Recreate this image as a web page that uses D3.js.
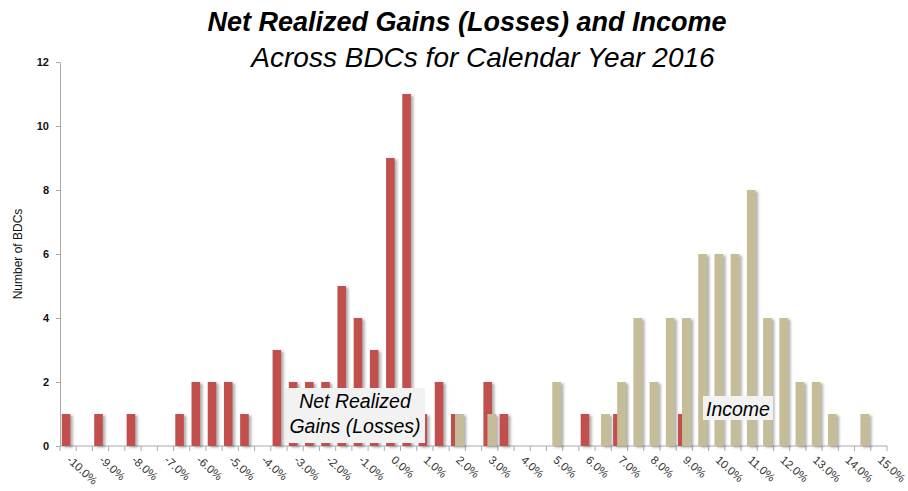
<!DOCTYPE html>
<html>
<head>
<meta charset="utf-8">
<script src="https://cdn.jsdelivr.net/npm/d3@7"></script>
<style>
  body { margin: 0; background: #fff; }
  text { font-family: "Liberation Sans", Arial, sans-serif; }
</style>
</head>
<body>
<svg id="chart"></svg>
<script>
// return buckets, 0.5% wide
const bins = [-10.0, -9.5, -9.0, -8.5, -8.0, -7.5, -7.0, -6.5, -6.0, -5.5,
  -5.0, -4.5, -4.0, -3.5, -3.0, -2.5, -2.0, -1.5, -1.0, -0.5,
  0.0, 0.5, 1.0, 1.5, 2.0, 2.5, 3.0, 3.5, 4.0, 4.5,
  5.0, 5.5, 6.0, 6.5, 7.0, 7.5, 8.0, 8.5, 9.0, 9.5,
  10.0, 10.5, 11.0, 11.5, 12.0, 12.5, 13.0, 13.5, 14.0, 14.5, 15.0];

// number of BDCs per bucket
const gains = [1, 0, 1, 0, 1, 0, 0, 1, 2, 2,
  2, 1, 0, 3, 2, 2, 2, 5, 4, 3,
  9, 11, 1, 2, 1, 0, 2, 1, 0, 0,
  0, 0, 1, 0, 1, 0, 0, 0, 1, 0,
  0, 0, 0, 0, 0, 0, 0, 0, 0, 0, 0];

const income = [0, 0, 0, 0, 0, 0, 0, 0, 0, 0,
  0, 0, 0, 0, 0, 0, 0, 0, 0, 0,
  0, 0, 0, 0, 1, 0, 1, 0, 0, 0,
  2, 0, 0, 1, 2, 4, 2, 4, 4, 6,
  6, 6, 8, 4, 4, 2, 2, 1, 0, 1, 0];

const yTicks = [0, 2, 4, 6, 8, 10, 12];

const width = 908;
const height = 491;
const margin = { top: 62, right: 21, bottom: 45, left: 60 };

const svg = d3.select('#chart')
  .attr('width', width)
  .attr('height', height);

const defs = svg.append('defs');
const shadow = defs.append('filter')
  .attr('id', 'shadow')
  .attr('x', '-20%').attr('y', '-5%')
  .attr('width', '180%').attr('height', '115%');
shadow.append('feDropShadow')
  .attr('dx', 2.5).attr('dy', 1.5)
  .attr('stdDeviation', 1.2)
  .attr('flood-color', '#666')
  .attr('flood-opacity', 0.5);

const x = d3.scaleBand()
  .domain(bins)
  .range([margin.left, width - margin.right])
  .padding(0);

const y = d3.scaleLinear()
  .domain([0, 12])
  .range([height - margin.bottom, margin.top]);

const bw = x.bandwidth();

// axes
const yAxis = svg.append('g')
  .attr('transform', 'translate(' + margin.left + ',0)')
  .call(d3.axisLeft(y).tickValues(yTicks).tickSize(4).tickPadding(7));
yAxis.select('.domain').attr('stroke', '#aaa');
yAxis.selectAll('.tick line').attr('stroke', '#aaa');
yAxis.selectAll('.tick text')
  .attr('fill', '#111')
  .style('font-size', '11px')
  .style('font-weight', 'bold');

const xg = svg.append('g');
xg.append('line')
  .attr('x1', margin.left).attr('x2', width - margin.right)
  .attr('y1', y(0)).attr('y2', y(0))
  .attr('stroke', '#aaa');
xg.selectAll('.xtick')
  .data(bins.concat(['end']))
  .enter().append('line')
    .attr('class', 'xtick')
    .attr('x1', d => d === 'end' ? width - margin.right : x(d))
    .attr('x2', d => d === 'end' ? width - margin.right : x(d))
    .attr('y1', y(0)).attr('y2', y(0) + 5)
    .attr('stroke', '#aaa');
xg.selectAll('.xlabel')
  .data(bins.filter((d, i) => i % 2 === 0))
  .enter().append('text')
    .attr('class', 'xlabel')
    .attr('transform', d => 'translate(' + (x(d) + bw / 2 - 2) + ',' + (y(0) + 15) + ') rotate(42)')
    .attr('fill', '#333')
    .style('font-size', '11.5px')
    .text(d => d.toFixed(1) + '%');

svg.append('text')
  .attr('transform', 'translate(22,' + ((y(0) + y(12)) / 2) + ') rotate(-90)')
  .attr('text-anchor', 'middle')
  .attr('fill', '#111')
  .style('font-size', '12px')
  .text('Number of BDCs');

// bars
const bars = svg.append('g').attr('filter', 'url(#shadow)');

bars.selectAll('.gain')
  .data(bins.map((b, i) => ({ bin: b, v: gains[i] })).filter(d => d.v > 0))
  .enter().append('rect')
    .attr('class', 'gain')
    .attr('x', d => x(d.bin) + bw * 0.11)
    .attr('width', bw * 0.53)
    .attr('y', d => y(d.v))
    .attr('height', d => y(0) - y(d.v))
    .attr('fill', '#C0504D');

bars.selectAll('.income')
  .data(bins.map((b, i) => ({ bin: b, v: income[i] })).filter(d => d.v > 0))
  .enter().append('rect')
    .attr('class', 'income')
    .attr('x', d => x(d.bin) + bw * 0.36)
    .attr('width', bw * 0.54)
    .attr('y', d => y(d.v))
    .attr('height', d => y(0) - y(d.v))
    .attr('fill', '#C4BD97');

// series labels
function label(x0, y0, w, h, lines) {
  const g = svg.append('g');
  g.append('rect')
    .attr('x', x0).attr('y', y0)
    .attr('width', w).attr('height', h)
    .attr('fill', '#f2f2f2');
  lines.forEach((t, i) => {
    g.append('text')
      .attr('x', x0 + w / 2)
      .attr('y', y0 + 20 + i * 25)
      .attr('text-anchor', 'middle')
      .style('font-size', '19.5px')
      .style('font-style', 'italic')
      .attr('fill', '#000')
      .text(t);
  });
}
label(285, 388, 140, 55, ['Net Realized', 'Gains (Losses)']);
label(703, 396, 70, 24, ['Income']);

// titles
svg.append('text')
  .attr('x', 467).attr('y', 31)
  .attr('text-anchor', 'middle')
  .style('font-size', '27px')
  .style('font-weight', 'bold')
  .style('font-style', 'italic')
  .text('Net Realized Gains (Losses) and Income');

svg.append('text')
  .attr('x', 483).attr('y', 67)
  .attr('text-anchor', 'middle')
  .style('font-size', '28px')
  .style('font-style', 'italic')
  .text('Across BDCs for Calendar Year 2016');
</script>
</body>
</html>
